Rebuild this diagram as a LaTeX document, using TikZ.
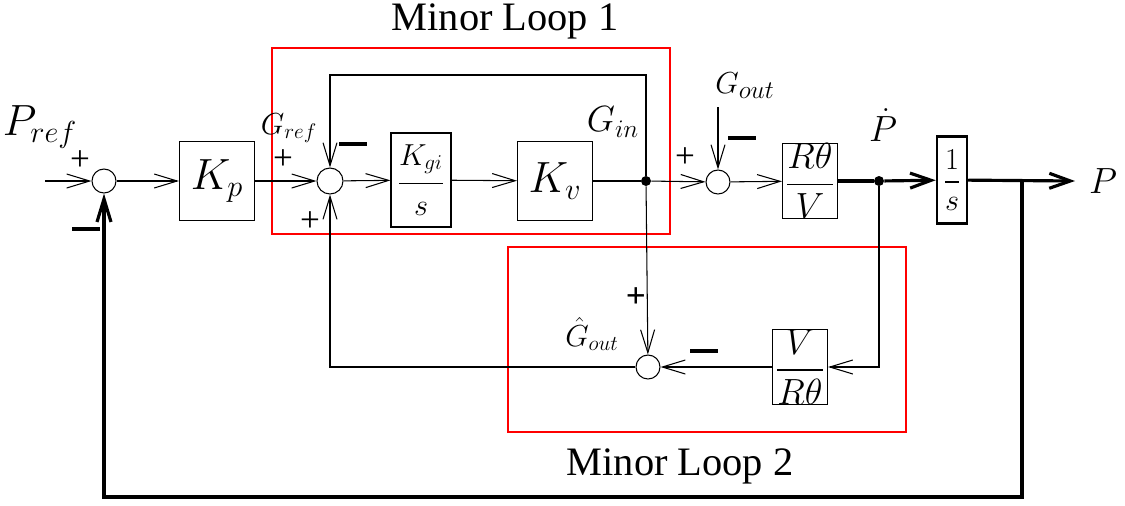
\documentclass[tikz,border=0pt]{standalone}
\usepackage{amsmath}
\usepackage{fontspec}
\setmainfont{Liberation Serif}
\usetikzlibrary{arrows.meta}

\begin{document}
\begin{tikzpicture}[x=0.02cm,y=-0.02cm,
    sumpt/.style={draw,circle,minimum size=0.48cm,inner sep=0pt,line width=0.6pt},
    blk/.style={draw,rectangle,inner sep=0pt,line width=0.6pt},
    sig/.style={line width=0.6pt,-{Straight Barb[length=0.46cm,width=0.28cm]}},
    bigsig/.style={line width=1.8pt,-{Straight Barb[length=0.42cm,width=0.3cm]}},
    dot/.style={fill,circle,inner sep=0pt,minimum size=0.2cm},
    sgn/.style={font=\fontsize{20}{22}\selectfont,inner sep=1pt},
    neg/.style={inner sep=0pt},
    loopbox/.style={draw=red,line width=0.6pt}]
  \useasboundingbox (0,0) rectangle (1125,505);

  % minor loop frames
  \draw[loopbox] (272,48) rectangle (670,234);
  \draw[loopbox] (508,247) rectangle (906,432);
  \node[font=\fontsize{23}{26}\selectfont] (ml1) at (505,21) {Minor Loop 1};
  \node[font=\fontsize{23}{26}\selectfont] (ml2) at (680,466) {Minor Loop 2};

  % forward path
  \coordinate (in) at (45,181);
  \node[sumpt] (s1) at (104,181) {};
  \node[blk,minimum width=1.5cm,minimum height=1.58cm] (kp) at (217,181) {\fontsize{24}{26}\selectfont$K_p$};
  \node[sumpt,minimum size=0.52cm] (s2) at (330,181) {};
  \node[blk,minimum width=1.2cm,minimum height=1.88cm] (kgi) at (421,180) {\fontsize{17}{19}\selectfont$\dfrac{K_{gi}\rule[-8pt]{0pt}{0pt}}{\rule{0pt}{16pt}s}$};
  \node[blk,minimum width=1.5cm,minimum height=1.58cm] (kv) at (555,181) {\fontsize{24}{26}\selectfont$K_v$};
  \node[dot] (j1) at (646,181) {};
  \node[sumpt] (s3) at (718,182) {};
  \node[blk,minimum width=1.1cm,minimum height=1.46cm] (rtv) at (810,181) {\fontsize{20}{22}\selectfont$\dfrac{R\theta}{V}$};
  \node[dot] (j2) at (879,181) {};
  \node[blk,line width=1.4pt,minimum width=0.6cm,minimum height=1.74cm] (ovs) at (952,180) {\fontsize{17}{19}\selectfont$\dfrac{1}{s}$};
  \coordinate (j3) at (1022,181);
  \coordinate (out) at (1075,181);

  % minor loop 2 blocks
  \node[sumpt] (s4) at (648,367) {};
  \node[blk,minimum width=1.1cm,minimum height=1.42cm] (vrt) at (800,367) {\fontsize{20}{22}\selectfont$\dfrac{V}{R\theta}$};

  \coordinate (top) at (646,75);
  \coordinate (gin) at (718,107);
  \coordinate (bot) at (1022,497);

  % connectors
  \draw[sig] (in) -- (s1);
  \draw[sig] (s1) -- (kp);
  \draw[sig] (kp) -- (s2);
  \draw[sig] (s2) -- (kgi);
  \draw[sig] (kgi) -- (kv);
  \draw[line width=0.6pt] (kv) -- (j1);
  \draw[sig] (j1) -- (s3);
  \draw[sig] (gin) -- (s3);
  \draw[sig] (s3) -- (rtv);
  \draw[line width=1.8pt] (rtv) -- (j2);
  \draw[bigsig] (j2) -- (ovs);
  \draw[bigsig] (ovs) -- (out);
  \draw[sig] (j1) -- (top) -| (s2);
  \draw[sig] (j1) -- (s4);
  \draw[sig] (j2) |- (vrt);
  \draw[sig] (vrt) -- (s4);
  \draw[sig] (s4) -| (s2);
  \draw[line width=1.8pt,-{Straight Barb[length=0.46cm,width=0.28cm]}] (j3) -- (bot) -| (s1);

  % signal labels
  \node[font=\fontsize{26}{30}\selectfont,inner sep=1pt] (pref) at (40,127) {$P_{ref}$};
  \node[font=\fontsize{17}{20}\selectfont] (gref) at (289,128) {$G_{ref}$};
  \node[font=\fontsize{21}{24}\selectfont] (ginl) at (613,122) {$G_{in}$};
  \node[font=\fontsize{19}{22}\selectfont] (gout) at (745,86) {$G_{out}$};
  \node[font=\fontsize{21}{24}\selectfont,inner sep=1pt] (pdot) at (883,125) {$\dot{P}$};
  \node[font=\fontsize{22}{24}\selectfont] (pl) at (1103,181) {$P$};
  \node[font=\fontsize{18}{20}\selectfont,inner sep=1pt] (ghat) at (592,334) {$\hat{G}_{out}$};

  % signs
  \node[sgn] (p1) at (80,161) {+};
  \node[neg] (m1) at (86,229) {\rule{0.55cm}{2.4pt}};
  \node[sgn] (p2) at (283,160) {+};
  \node[neg] (m2) at (353,144) {\rule{0.55cm}{2.4pt}};
  \node[sgn] (p3) at (310,222) {+};
  \node[sgn] (p4) at (685,158) {+};
  \node[neg] (m3) at (742,138) {\rule{0.55cm}{2.4pt}};
  \node[sgn,font=\fontsize{20}{22}\selectfont\bfseries] (p5) at (636,298) {+};
  \node[neg] (m4) at (704,351) {\rule{0.55cm}{2.4pt}};
\end{tikzpicture}
\end{document}
